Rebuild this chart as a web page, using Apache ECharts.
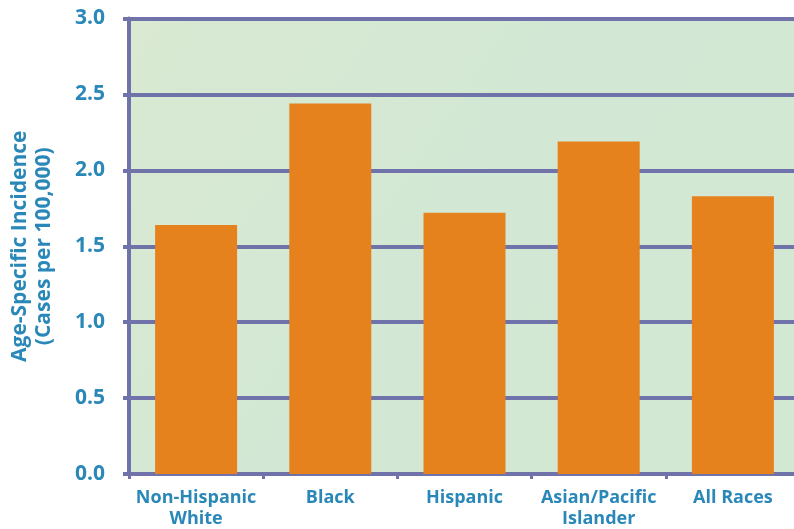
<!DOCTYPE html>
<html>
<head>
<meta charset="utf-8">
<script src="https://cdn.jsdelivr.net/npm/echarts@6/dist/echarts.min.js"></script>
<style>html,body{margin:0;padding:0;background:#fff;}#c{width:794px;height:529px;}</style>
</head>
<body>
<div id="c"></div>
<script>
const categories = ['Non-Hispanic\nWhite', 'Black', 'Hispanic', 'Asian/Pacific\nIslander', 'All Races'];
const incidence = [1.64, 2.44, 1.72, 2.19, 1.83];
const yTicks = [0, 0.5, 1.0, 1.5, 2.0, 2.5, 3.0];

const blue = '#2a88b8';
const purple = '#6f73aa';
const chart = echarts.init(document.getElementById('c'));
chart.setOption({
  animation: false,
  textStyle: { fontFamily: 'Open Sans' },
  grid: {
    left: 129, width: 671, top: 18.5, bottom: 55,
    outerBoundsMode: 'none',
    containLabel: false,
    show: true, borderWidth: 0,
    backgroundColor: {
      type: 'linear', x: 0, y: 0, x2: 1, y2: 1,
      colorStops: [{ offset: 0, color: '#d9e9d2' }, { offset: 0.5, color: '#d2e8d4' }, { offset: 1, color: '#d3e8d2' }]
    }
  },
  xAxis: {
    type: 'category',
    data: categories,
    axisLine: { lineStyle: { color: purple, width: 4 } },
    axisTick: { show: true, length: 5, lineStyle: { color: purple, width: 3 } },
    axisLabel: { interval: 0, color: blue, fontWeight: 'bold', fontSize: 18, lineHeight: 21, margin: 13, fontFamily: 'Open Sans' }
  },
  yAxis: {
    type: 'value',
    min: yTicks[0], max: yTicks[yTicks.length - 1], interval: 0.5,
    name: 'Age-Specific Incidence\n(Cases per 100,000)',
    nameLocation: 'middle',
    nameGap: 73,
    nameTextStyle: { color: blue, fontWeight: 'bold', fontSize: 21, lineHeight: 24, fontFamily: 'Open Sans' },
    axisLine: { show: true, lineStyle: { color: purple, width: 4 } },
    axisTick: { show: true, length: 6, lineStyle: { color: purple, width: 4 } },
    splitLine: { show: true, lineStyle: { color: purple, width: 4 } },
    axisLabel: {
      color: blue, fontWeight: 'bold', fontSize: 21, margin: 24, fontFamily: 'Open Sans',
      formatter: v => v.toFixed(1)
    }
  },
  series: [{
    type: 'bar',
    data: incidence,
    barWidth: 82,
    itemStyle: { color: '#e6821e' },
    z: 3
  }]
});
</script>
</body>
</html>
